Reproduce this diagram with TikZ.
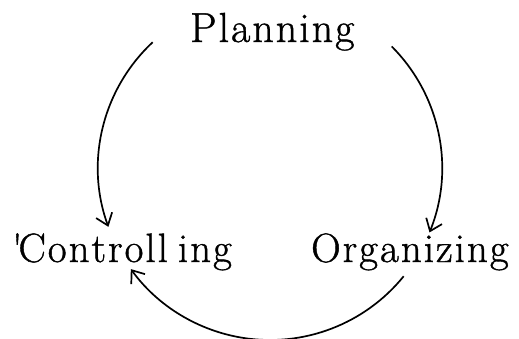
\documentclass[tikz,border=0pt]{standalone}
\usepackage{fontspec}
\newfontfamily\lblfont{Latin Modern Roman}[FakeBold=1]
\usetikzlibrary{arrows.meta,calc}
\newlength\lspk \setlength\lspk{2pt}
\makeatletter
\newcommand\lsp[1]{\@tfor\lspnext:=#1\do{\lspnext\kern\lspk}}
\makeatother
\begin{document}
\begin{tikzpicture}[x=1pt,y=1pt,
  lbl/.style={inner sep=0pt,anchor=base west,font=\fontsize{41}{46}\lblfont},
  cyc/.style={line width=1.7pt,-{Straight Barb[length=11pt,width=17pt,line width=1.7pt]}}]
\useasboundingbox (0,0) rectangle (519,-338);
\node[lbl,font=\fontsize{42}{46}\lblfont] (plan) at (190,-42) {\lsp{Planning}};
\node[lbl] (ctrl) at (12,-262) {'\kern-4pt\lsp{Controll}\kern8pt\lsp{ing}};
\node[lbl] (org) at (311,-262) {\lsp{Organizing}};
\def\R{172}
\coordinate (ctr) at (270,-168);
\coordinate (p1) at ($(ctr)+(133:\R)$);
\coordinate (p2) at ($(ctr)+(45:\R)$);
\coordinate (o1) at ($(ctr)+(-39:\R)$);
\draw[cyc] (p1) arc[start angle=133,end angle=200,radius=\R];
\draw[cyc] (p2) arc[start angle=45,end angle=-22,radius=\R];
\draw[cyc] (o1) arc[start angle=-39,end angle=-144,radius=\R];
\end{tikzpicture}
\end{document}
